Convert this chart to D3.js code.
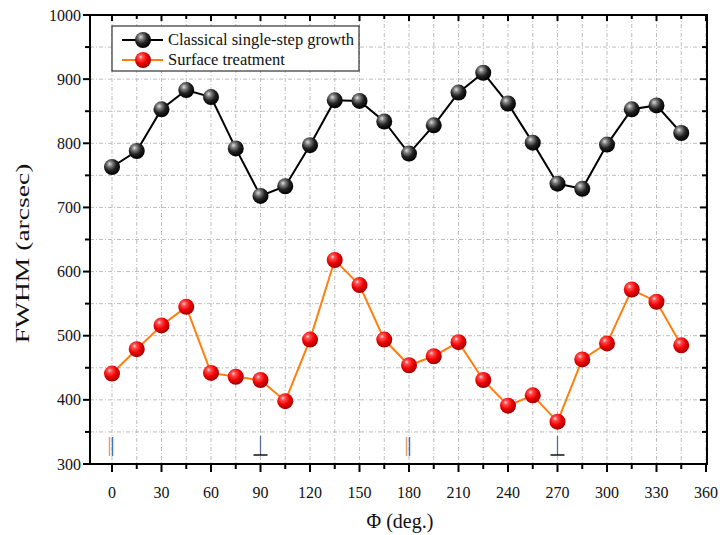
<!DOCTYPE html>
<html><head><meta charset="utf-8">
<script src="https://cdn.jsdelivr.net/npm/d3@7"></script>
<style>body{margin:0;background:#fff}svg{display:block}text{font-family:"Liberation Serif","Times New Roman",serif}</style>
</head><body><svg id="c" width="722" height="535"></svg>
<script>
const angles = [0,15,30,45,60,75,90,105,120,135,150,165,180,195,210,225,240,255,270,285,300,315,330,345];
const classical = [763,788,853,883,872,792,718,733,797,867,866,834,784,828,879,910,862,801,737,729,798,853,859,816];
const surface = [441,479,516,545,442,436,431,398,494,618,579,494,454,468,490,431,391,407,366,463,488,572,553,485];
const seriesNames = ["Classical single-step growth","Surface treatment"];
const xTicks = [0,30,60,90,120,150,180,210,240,270,300,330,360];
const yTicks = [300,400,500,600,700,800,900,1000];
const symbolAngles = [0,90,180,270];
const symbolTypes = ["par","perp","par","perp"];

const svg = d3.select("#c");
const L=90,R=707,T=15,B=464;
const x = d3.scaleLinear().domain([0,360]).range([112,706]);
const y = d3.scaleLinear().domain([300,1000]).range([B,T]);

const defs = svg.append("defs");
function grad(id, stops){
  const g = defs.append("radialGradient").attr("id",id).attr("cx","40%").attr("cy","35%").attr("r","65%").attr("fx","35%").attr("fy","30%");
  stops.forEach(s=>g.append("stop").attr("offset",s[0]).attr("stop-color",s[1]));
}
grad("gBlack",[["0%","#e0e0e0"],["25%","#808080"],["60%","#222"],["100%","#000"]]);
grad("gRed",[["0%","#ffe0e0"],["20%","#ff5050"],["60%","#f00000"],["100%","#a00000"]]);

// grid
const xMinor = d3.range(0,361,15), yMinor = d3.range(300,1001,50);
const grid = svg.append("g").attr("stroke","#bdbdbd").attr("stroke-width",1).attr("stroke-dasharray","4,2,1,2");
grid.selectAll(".gx").data(xMinor).join("line").attr("x1",d=>x(d)).attr("x2",d=>x(d)).attr("y1",T).attr("y2",B);
grid.selectAll(".gy").data(yMinor).join("line").attr("x1",L).attr("x2",R).attr("y1",d=>y(d)).attr("y2",d=>y(d));

// axes
const ax = svg.append("g").attr("stroke","#000");
ax.selectAll(".bt").data(xMinor).join("line").attr("x1",d=>x(d)).attr("x2",d=>x(d)).attr("y1",B).attr("y2",d=>B+(d%30===0?8:5)).attr("stroke-width",2);
ax.selectAll(".tt").data(xMinor).join("line").attr("x1",d=>x(d)).attr("x2",d=>x(d)).attr("y1",T).attr("y2",d=>T+(d%30===0?6:4)).attr("stroke-width",2);
ax.selectAll(".lt").data(yMinor).join("line").attr("y1",d=>y(d)).attr("y2",d=>y(d)).attr("x1",L).attr("x2",d=>L-(d%100===0?7:5)).attr("stroke-width",2);
ax.selectAll(".rt").data(yMinor).join("line").attr("y1",d=>y(d)).attr("y2",d=>y(d)).attr("x1",R).attr("x2",d=>R-(d%100===0?7:5)).attr("stroke-width",2);
svg.append("rect").attr("x",L).attr("y",T).attr("width",R-L).attr("height",B-T).attr("fill","none").attr("stroke","#000").attr("stroke-width",2);

// tick labels
svg.append("g").selectAll("text").data(xTicks).join("text").attr("x",d=>x(d)).attr("y",498).attr("text-anchor","middle").attr("font-size",16).attr("fill","#111").text(d=>d);
svg.append("g").selectAll("text").data(yTicks).join("text").attr("x",81).attr("y",d=>y(d)+5.5).attr("text-anchor","end").attr("font-size",16).attr("fill","#111").text(d=>d);

// axis titles
svg.append("text").attr("x",400).attr("y",528).attr("text-anchor","middle").attr("font-size",20).attr("fill","#111").text("Φ (deg.)");
svg.append("text").attr("transform","translate(29,"+((T+B)/2+14)+") rotate(-90) scale(1.45,1)").attr("text-anchor","middle").attr("font-size",19).attr("fill","#111").text("FWHM (arcsec)");

// orientation symbols
const sym = svg.append("g");
symbolAngles.forEach((a,i)=>{
  const cx = x(a);
  if(symbolTypes[i]==="par"){
    sym.append("line").attr("x1",cx-2.5).attr("x2",cx-2.5).attr("y1",437).attr("y2",456).attr("stroke","#e8a070").attr("stroke-width",1.5);
    sym.append("line").attr("x1",cx+0.5).attr("x2",cx+0.5).attr("y1",437).attr("y2",456).attr("stroke","#3a78c8").attr("stroke-width",1.5);
  } else {
    sym.append("line").attr("x1",cx).attr("x2",cx).attr("y1",436).attr("y2",455).attr("stroke","#5a6a9a").attr("stroke-width",1.3);
    sym.append("line").attr("x1",cx-7).attr("x2",cx+7).attr("y1",455).attr("y2",455).attr("stroke","#111").attr("stroke-width",1.5);
  }
});

// series
const line = d3.line().x((d,i)=>x(angles[i])).y(d=>y(d));
function drawSeries(vals,color,gid){
  svg.append("path").datum(vals).attr("d",line).attr("fill","none").attr("stroke",color).attr("stroke-width",2);
  svg.append("g").selectAll("circle").data(vals).join("circle").attr("cx",(d,i)=>x(angles[i])).attr("cy",d=>y(d)).attr("r",8).attr("fill","url(#"+gid+")");
}
drawSeries(classical,"#000","gBlack");
drawSeries(surface,"#ff7f0e","gRed");

// legend
const lg = svg.append("g");
lg.append("rect").attr("x",112).attr("y",26).attr("width",247).attr("height",45).attr("fill","#fff").attr("stroke","#333").attr("stroke-width",1.2);
const rows=[{n:seriesNames[0],c:"#000",g:"gBlack",y:40},{n:seriesNames[1],c:"#ff7f0e",g:"gRed",y:60}];
rows.forEach(r=>{
  lg.append("line").attr("x1",122).attr("x2",163).attr("y1",r.y).attr("y2",r.y).attr("stroke",r.c).attr("stroke-width",2);
  lg.append("circle").attr("cx",143).attr("cy",r.y).attr("r",8).attr("fill","url(#"+r.g+")");
  lg.append("text").attr("x",168).attr("y",r.y+5).attr("font-size",16.5).attr("fill","#111").text(r.n);
});
</script></body></html>
